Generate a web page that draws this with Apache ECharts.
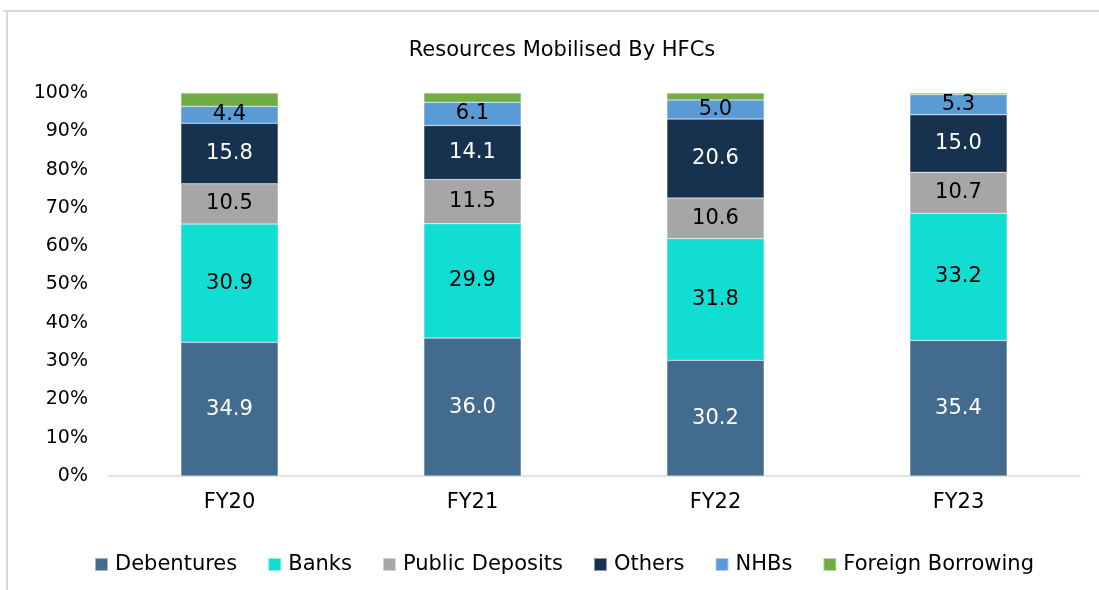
<!DOCTYPE html>
<html>
<head>
<meta charset="utf-8">
<script src="https://cdn.jsdelivr.net/npm/echarts@6/dist/echarts.min.js"></script>
<style>
  html, body { margin: 0; padding: 0; background: #fff; }
  #main { width: 1099px; height: 590px; }
</style>
</head>
<body>
<div id="main"></div>
<script>
var years = ['FY20', 'FY21', 'FY22', 'FY23']
var debentures = [34.9, 36.0, 30.2, 35.4]
var banks = [30.9, 29.9, 31.8, 33.2]
var publicDeposits = [10.5, 11.5, 10.6, 10.7]
var others = [15.8, 14.1, 20.6, 15.0]
var nhbs = [4.4, 6.1, 5.0, 5.3]
var foreignBorrowing = [3.5, 2.4, 1.8, 0.4]
var yTicks = [0, 10, 20, 30, 40, 50, 60, 70, 80, 90, 100]

var font = '"DejaVu Sans", Verdana, sans-serif'

// one series per funding source
function mkSeries(name, data, color, labelColor, showLabel) {
  return {
    name: name,
    type: 'bar',
    stack: 'total',
    barWidth: '40%',
    data: data,
    itemStyle: { color: color, borderColor: 'rgba(255,255,255,0.5)', borderWidth: 0.5 },
    label: {
      show: showLabel,
      position: 'inside',
      color: labelColor,
      fontSize: 21,
      fontFamily: font,
      formatter: function (p) { return p.value.toFixed(1) }
    },
    emphasis: { disabled: true }
  }
}

var mychart = echarts.init(document.getElementById('main'))
var option = {
  animation: false,
  backgroundColor: '#fff',
  title: {
    text: 'Resources Mobilised By HFCs',
    left: 557,
    textAlign: 'center',
    top: 35,
    textStyle: { fontSize: 21, fontWeight: 'normal', color: '#000', fontFamily: font }
  },
  legend: {
    top: 549,
    left: 89,
    itemWidth: 13,
    itemHeight: 13,
    itemGap: 30,
    icon: 'rect',
    textStyle: { fontSize: 21, color: '#000', fontFamily: font, padding: [0, 0, 0, 2] },
    data: ['Debentures', 'Banks', 'Public Deposits', 'Others', 'NHBs', 'Foreign Borrowing']
  },
  grid: { left: 108, right: 19, top: 93, bottom: 114 },
  xAxis: {
    type: 'category',
    data: years,
    axisTick: { show: false },
    axisLine: { lineStyle: { color: '#d9d9d9', width: 1.5 } },
    axisLabel: { fontSize: 21, color: '#000', fontFamily: font, margin: 16 }
  },
  yAxis: {
    type: 'value',
    min: yTicks[0],
    max: yTicks[yTicks.length - 1],
    interval: 10,
    splitLine: { show: false },
    axisLine: { show: false },
    axisTick: { show: false },
    axisLabel: { fontSize: 19, color: '#000', fontFamily: font, margin: 20, formatter: '{value}%' }
  },
  graphic: [
    { type: 'line', shape: { x1: 3, y1: 11, x2: 1099, y2: 11 }, style: { stroke: '#d9d9d9', lineWidth: 2 } },
    { type: 'line', shape: { x1: 7, y1: 11, x2: 7, y2: 590 }, style: { stroke: '#d9d9d9', lineWidth: 2 } }
  ],
  series: [
    mkSeries('Debentures', debentures, '#436b8e', '#fff', true),
    mkSeries('Banks', banks, '#12ddd3', '#000', true),
    mkSeries('Public Deposits', publicDeposits, '#a6a6a6', '#000', true),
    mkSeries('Others', others, '#17324f', '#fff', true),
    mkSeries('NHBs', nhbs, '#5b9bd5', '#000', true),
    mkSeries('Foreign Borrowing', foreignBorrowing, '#70ad47', '#000', false)
  ]
}
mychart.setOption(option)
</script>
</body>
</html>
